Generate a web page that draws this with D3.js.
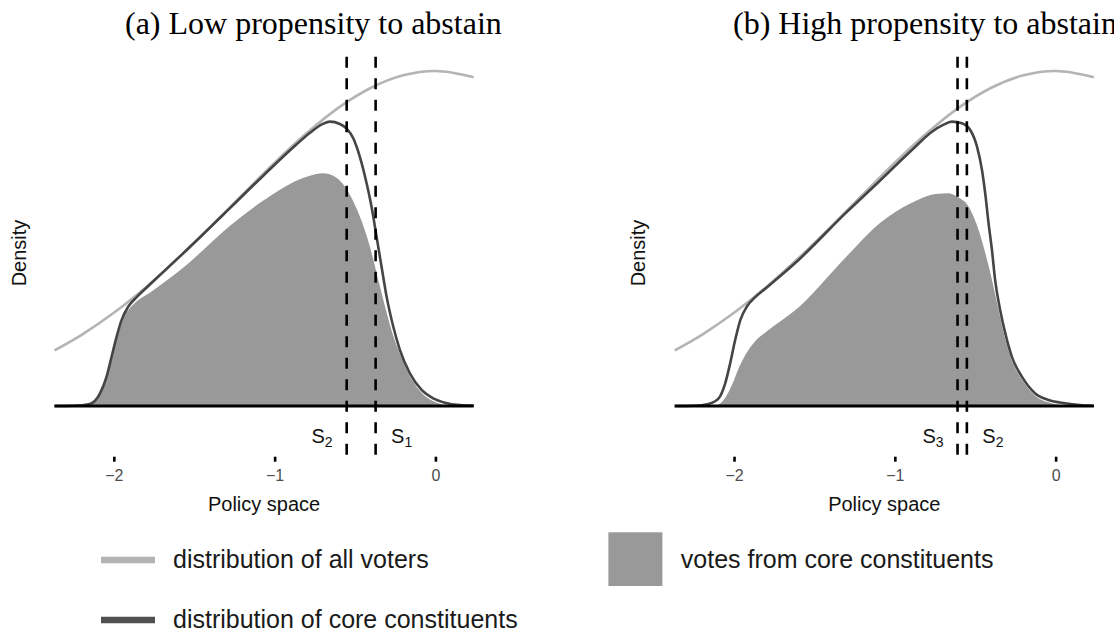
<!DOCTYPE html>
<html><head><meta charset="utf-8">
<script src="https://cdn.jsdelivr.net/npm/d3@7"></script>
<style>body{margin:0;background:#fff}svg{display:block}</style>
</head><body>
<svg id="chart" width="1114" height="634"></svg>
<script>
// ---------- data ----------
const xTicks = [-2, -1, 0];
const panelTitles = ["(a) Low propensity to abstain", "(b) High propensity to abstain"];

// distribution of all voters (same in both panels)
const allVoters = [[-2.369,0.0531],[-2.2,0.068],[-2.0,0.089],[-1.8,0.1135],[-1.6,0.1411],[-1.4,0.1709],
  [-1.2,0.2019],[-1.0,0.2324],[-0.8,0.2607],[-0.6,0.2852],[-0.4,0.304],[-0.2,0.3159],[0,0.32],[0.238,0.3141]];

// panel (a): distribution of core constituents
const coreLow = [[-2.369,0],[-2.25,0.0003],[-2.149,0.002],[-2.086,0.012],[-2.045,0.028],[-2.014,0.047],
  [-1.983,0.066],[-1.952,0.082],[-1.91,0.095],[-1.858,0.104],[-1.776,0.116],[-1.568,0.146],[-1.278,0.189],
  [-1.071,0.22],[-0.863,0.25],[-0.78,0.261],[-0.7,0.2695],[-0.656,0.2716],[-0.594,0.2694],[-0.552,0.265],
  [-0.511,0.2557],[-0.47,0.238],[-0.428,0.2127],[-0.397,0.19],[-0.366,0.1617],[-0.335,0.133],[-0.303,0.104],
  [-0.262,0.0757],[-0.221,0.0535],[-0.159,0.0312],[-0.086,0.0153],[-0.014,0.0073],[0.059,0.0032],[0.15,0.001],[0.238,0.0005]];
// panel (a): votes from core constituents
const votesLow = [[-2.369,0],[-2.25,0.0002],[-2.172,0.001],[-2.107,0.007],[-2.066,0.022],[-2.024,0.044],
  [-1.983,0.066],[-1.942,0.085],[-1.879,0.098],[-1.776,0.109],[-1.568,0.133],[-1.278,0.173],[-1.071,0.197],
  [-0.863,0.216],[-0.76,0.2215],[-0.698,0.2229],[-0.636,0.2207],[-0.573,0.2127],[-0.511,0.197],[-0.449,0.1745],
  [-0.397,0.149],[-0.356,0.1235],[-0.314,0.098],[-0.262,0.069],[-0.21,0.047],[-0.148,0.0265],[-0.076,0.012],
  [0.007,0.004],[0.059,0.0016],[0.15,0.0003],[0.238,0]];

// panel (b): distribution of core constituents
const coreHigh = [[-2.369,0],[-2.25,0.0003],[-2.159,0.002],[-2.096,0.0073],[-2.055,0.0217],[-2.024,0.0408],
  [-1.993,0.063],[-1.961,0.082],[-1.92,0.095],[-1.868,0.104],[-1.806,0.112],[-1.599,0.1395],[-1.308,0.184],
  [-1.101,0.214],[-0.894,0.2445],[-0.769,0.262],[-0.7,0.2685],[-0.645,0.2716],[-0.583,0.27],[-0.531,0.2636],
  [-0.489,0.2477],[-0.458,0.2254],[-0.438,0.2032],[-0.417,0.1745],[-0.396,0.149],[-0.376,0.12],[-0.345,0.0917],
  [-0.313,0.0694],[-0.272,0.047],[-0.21,0.028],[-0.127,0.012],[-0.044,0.0057],[0.06,0.0026],[0.15,0.001],[0.238,0.0003]];
// panel (b): votes from core constituents
const votesHigh = [[-2.369,0],[-2.25,0.0002],[-2.117,0.001],[-2.055,0.009],[-2.013,0.0217],[-1.972,0.0375],
  [-1.93,0.05],[-1.868,0.063],[-1.806,0.071],[-1.599,0.095],[-1.308,0.1426],[-1.101,0.1745],[-0.894,0.195],
  [-0.749,0.2032],[-0.666,0.2038],[-0.604,0.2],[-0.542,0.192],[-0.489,0.1745],[-0.438,0.149],[-0.396,0.1235],
  [-0.355,0.095],[-0.313,0.066],[-0.272,0.045],[-0.21,0.0265],[-0.127,0.0105],[-0.023,0.0032],[0.06,0.001],[0.238,0]];

// party positions (dashed lines)
const cutsLow = [-0.552, -0.372];
const cutsLowLabels = [["S","2"], ["S","1"]];
const cutsHigh = [-0.610, -0.552];
const cutsHighLabels = [["S","3"], ["S","2"]];

const legendLines = ["distribution of all voters", "distribution of core constituents"];
const legendFill = "votes from core constituents";

// ---------- drawing ----------
const svg = d3.select("#chart");
const sans = "'Liberation Sans', Arial, Helvetica, sans-serif";
const serif = "'Liberation Serif', 'Times New Roman', serif";

const panels = [
  {left: 54.5, right: 473.7, title: panelTitles[0], titleX: 125, core: coreLow, votes: votesLow, cuts: cutsLow, labels: cutsLowLabels, densX: 19},
  {left: 674.7, right: 1093.9, title: panelTitles[1], titleX: 733, core: coreHigh, votes: votesHigh, cuts: cutsHigh, labels: cutsHighLabels, densX: 638}
];

const y = d3.scaleLinear().domain([0, 0.32]).range([406, 71]);

panels.forEach(p => {
  const g = svg.append("g");
  const x = d3.scaleLinear().domain([-2.369, 0.238]).range([p.left, p.right]);
  const line = d3.line().x(d => x(d[0])).y(d => y(d[1])).curve(d3.curveMonotoneX);
  const area = d3.area().x(d => x(d[0])).y0(y(0)).y1(d => y(d[1])).curve(d3.curveMonotoneX);

  // title
  g.append("text").attr("x", p.titleX).attr("y", 34)
    .attr("font-family", serif).attr("font-size", 32)
    .attr("fill", "#000").text(p.title);

  // y label
  g.append("text").attr("transform", `translate(${p.densX},253) rotate(-90)`)
    .attr("text-anchor", "middle").attr("dominant-baseline", "central")
    .attr("font-family", sans).attr("font-size", 20).attr("fill", "#111").text("Density");

  // all voters
  g.append("path").datum(allVoters).attr("d", line)
    .attr("fill", "none").attr("stroke", "#b4b4b4").attr("stroke-width", 2.6);

  // votes from core constituents
  g.append("path").datum(p.votes).attr("d", area)
    .attr("fill", "#999999").attr("stroke", "#ffffff").attr("stroke-width", 1.4);

  // core constituents
  g.append("path").datum(p.core).attr("d", line)
    .attr("fill", "none").attr("stroke", "#454545").attr("stroke-width", 2.6);

  // base line
  g.append("line").attr("x1", x.range()[0]).attr("x2", x.range()[1])
    .attr("y1", y(0)).attr("y2", y(0)).attr("stroke", "#000").attr("stroke-width", 3.2);

  // dashed lines
  p.cuts.forEach((c, i) => {
    g.append("line").attr("x1", x(c)).attr("x2", x(c)).attr("y1", 56.7).attr("y2", 455)
      .attr("stroke", "#000").attr("stroke-width", 2.6).attr("stroke-dasharray", "11,10.5");
    const t = g.append("text").attr("y", 443).attr("font-family", sans).attr("font-size", 20).attr("fill", "#111");
    if (i === 0) t.attr("x", x(c) - 14).attr("text-anchor", "end");
    else t.attr("x", x(c) + 15.5).attr("text-anchor", "start");
    t.append("tspan").text(p.labels[i][0]);
    t.append("tspan").attr("font-size", 14).attr("dy", 4).text(p.labels[i][1]);
  });

  // tick axis
  const ax = g.append("g").attr("transform", "translate(0,456.7)")
    .call(d3.axisBottom(x).tickValues(xTicks).tickSize(5).tickPadding(8.3).tickFormat(d3.format("d")));
  ax.select(".domain").remove();
  ax.selectAll(".tick line").attr("stroke", "#000").attr("stroke-width", 2.6);
  ax.selectAll(".tick text").attr("font-family", sans).attr("font-size", 16).attr("fill", "#4d4d4d");

  // x label
  g.append("text").attr("x", (p.left + p.right) / 2).attr("y", 510.7).attr("text-anchor", "middle")
    .attr("font-family", sans).attr("font-size", 20).attr("fill", "#111").text("Policy space");
});

// legend
const legColors = ["#b3b3b3", "#505050"];
legendLines.forEach((lab, i) => {
  const yy = 560 + i * 60;
  svg.append("line").attr("x1", 101).attr("x2", 155).attr("y1", yy).attr("y2", yy)
    .attr("stroke", legColors[i]).attr("stroke-width", 6.5);
  svg.append("text").attr("x", 173).attr("y", yy + 8.3).attr("font-family", sans).attr("font-size", 25)
    .attr("fill", "#1a1a1a").text(lab);
});
svg.append("rect").attr("x", 608.4).attr("y", 532.3).attr("width", 54).attr("height", 53.7).attr("fill", "#999999");
svg.append("text").attr("x", 680.8).attr("y", 568.3).attr("font-family", sans).attr("font-size", 25)
  .attr("fill", "#1a1a1a").text(legendFill);
</script>
</body></html>
